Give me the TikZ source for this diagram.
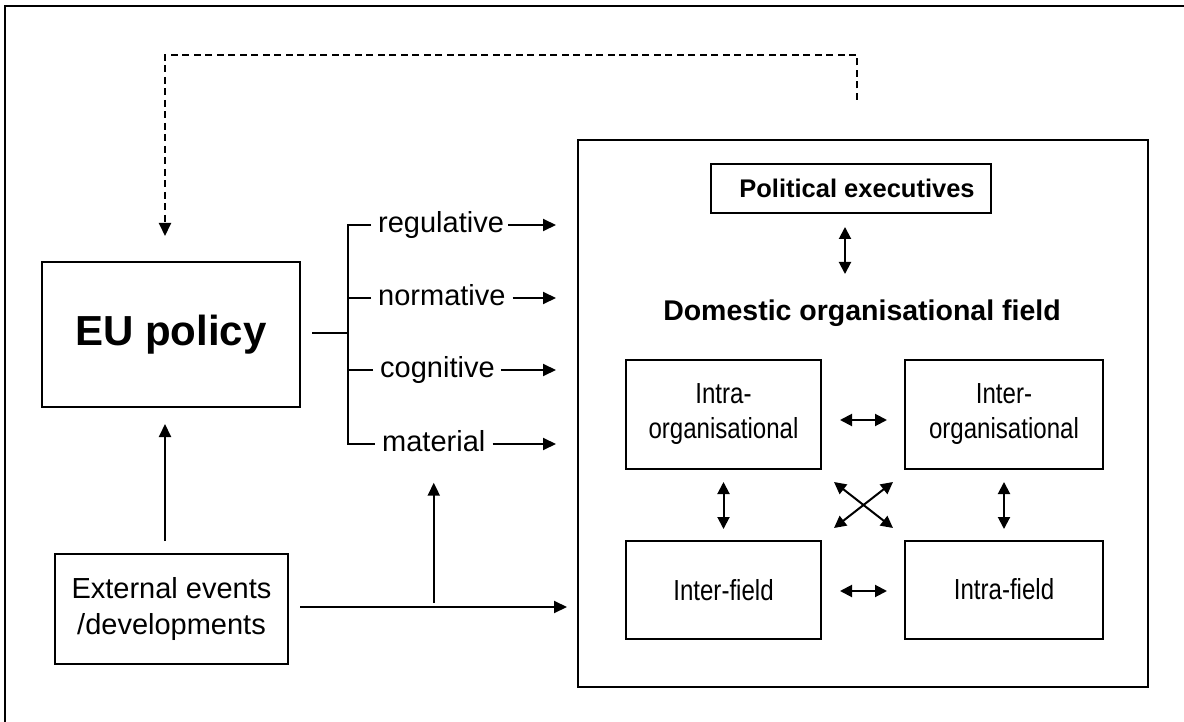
\documentclass[tikz,border=0pt]{standalone}
\usepackage{fontspec}
\setmainfont{Liberation Sans}
\newfontfamily\narrowfont{Liberation Sans}[FakeStretch=0.83]
\usetikzlibrary{arrows.meta,calc}
\begin{document}
\begin{tikzpicture}[x=1pt,y=-1pt,
  ln/.style={line width=2pt},
  rbox/.style={draw,line width=2pt,inner sep=0pt,align=center},
  lbl/.style={inner sep=0pt,anchor=west,text height=21pt,text depth=6pt,font=\fontsize{29pt}{34pt}\selectfont},
  arr/.style={line width=2pt,-{Triangle[length=13pt,width=12pt]}},
  darr/.style={line width=2pt,{Triangle[length=12pt,width=12pt]}-{Triangle[length=12pt,width=12pt]}},
  dsh/.style={line width=2pt,dash pattern=on 7pt off 4.5pt,-{Triangle[length=13pt,width=12pt]}}
]
\useasboundingbox (0,0) rectangle (1184,722);
\draw[line width=2pt] (5,6) rectangle (1200,740);

% left nodes
\node[rbox,minimum width=258pt,minimum height=145pt,font=\bfseries\fontsize{42pt}{48pt}\selectfont] (eu) at (171,334.5) {EU policy};
\node[rbox,minimum width=233pt,minimum height=110pt,font=\fontsize{29pt}{36pt}\selectfont] (ext) at (171.5,609) {External events\\/developments};

% big box
\node[rbox,minimum width=570pt,minimum height=547pt] (big) at (863,413.5) {};
\node[rbox,minimum width=280pt,minimum height=49pt,font=\bfseries\fontsize{25.5pt}{30pt}\selectfont] (pol) at (851,188.5) {\hspace*{12pt}Political executives};
\node[inner sep=0pt,font=\bfseries\fontsize{28.5pt}{34pt}\selectfont] (dom) at (862,313) {Domestic organisational field};

\node[rbox,minimum width=195pt,minimum height=109pt,font=\narrowfont\fontsize{29pt}{35pt}\selectfont] (ia) at (723.5,414.5) {Intra-\\organisational};
\node[rbox,minimum width=198pt,minimum height=109pt,font=\narrowfont\fontsize{29pt}{35pt}\selectfont] (ie) at (1004,414.5) {Inter-\\organisational};
\node[rbox,minimum width=195pt,minimum height=98pt,font=\narrowfont\fontsize{29pt}{35pt}\selectfont] (ifd) at (723.5,590) {Inter-field};
\node[rbox,minimum width=198pt,minimum height=98pt,font=\narrowfont\fontsize{29pt}{35pt}\selectfont] (iaf) at (1004,590) {\raisebox{3pt}{Intra-field}};

% labels
\node[lbl] (reg) at (378,225) {regulative};
\node[lbl] (nor) at (378,298) {normative};
\node[lbl] (cog) at (380,370) {cognitive};
\node[lbl] (mat) at (382,444) {material};

\coordinate (b1) at (348,225);
\coordinate (b4) at (348,444);
\coordinate (t1) at (556,225);
\coordinate (t2) at (556,298);
\coordinate (t3) at (556,370);
\coordinate (t4) at (556,444);

% bracket
\draw[ln] ([xshift=-7pt]reg.west) -- (b1) -- (b4) -- ([xshift=-7pt]mat.west);
\draw[ln] ([xshift=-7pt]nor.west) -- (nor.west -| b1);
\draw[ln] ([xshift=-7pt]cog.west) -- (cog.west -| b1);
\draw[ln] ([xshift=11pt,yshift=1.5pt]eu.east) -- ($(eu.east -| b1)+(0,-1.5)$);

% label arrows
\draw[arr] ([xshift=4pt]reg.east) -- (t1);
\draw[arr] ([xshift=7pt]nor.east) -- (t2);
\draw[arr] ([xshift=6pt]cog.east) -- (t3);
\draw[arr] ([xshift=7pt]mat.east) -- (t4);

% dashed feedback
\coordinate (d0) at (857,100);
\coordinate (dtop) at (165,55);
\draw[dsh] (d0) |- (dtop) -- ($(eu.north -| dtop)+(0,-25)$);

% external arrows
\draw[arr] ($(ext.north -| dtop)+(0,-12)$) -- ($(eu.south -| dtop)+(0,16)$);
\coordinate (h1) at ($(ext.east)+(11,-2)$);
\draw[arr] (h1) -- ($(big.west |- h1)+(-10,0)$);
\draw[arr] ($(mat.south |- h1)+(0,-4)$) -- ($(mat.south)+(0,25)$);

% inner arrows
\draw[darr] ($(pol.south)+(-6,13)$) -- ($(pol.south)+(-6,60)$);
\draw[darr] ($(ia.east)+(18,5.5)$) -- ($(ie.west)+(-17,5.5)$);
\draw[darr] ($(ifd.east)+(18,1)$) -- ($(iaf.west)+(-17,1)$);
\draw[darr] ($(ia.south)+(0,12)$) -- ($(ifd.north)+(0,-11)$);
\draw[darr] ($(ie.south)+(0,12)$) -- ($(iaf.north)+(0,-11)$);
\draw[darr] ($(ia.south east)+(12,12)$) -- ($(iaf.north west)+(-11,-12)$);
\draw[darr] ($(ie.south west)+(-11,12)$) -- ($(ifd.north east)+(12,-12)$);
\end{tikzpicture}
\end{document}
